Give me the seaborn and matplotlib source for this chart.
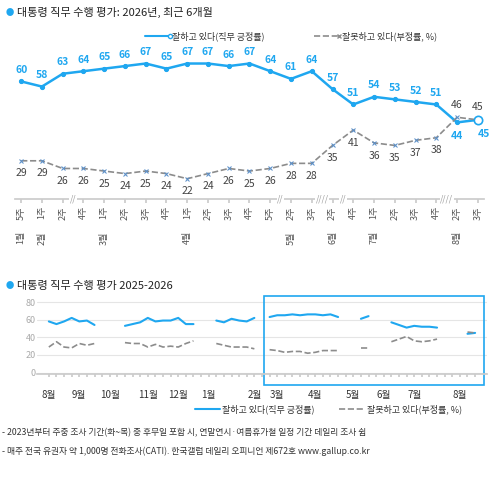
import numpy as np
import pandas as pd
import matplotlib
matplotlib.use("Agg")
import matplotlib.pyplot as plt
import seaborn as sns
from matplotlib.patches import Rectangle

sns.set_theme(style="white")
plt.rcParams['font.family'] = ['Noto Sans CJK KR', 'DejaVu Sans']

BLUE = "#1fa7f0"
GREY = "#8c8c8c"

weeks = ["5주","1주","2주","4주","1주","2주","3주","4주","1주","2주","3주","4주","5주",
         "2주","3주","2주","4주","1주","2주","3주","4주","2주","3주"]
months = {0:"1월",1:"2월",4:"3월",8:"4월",13:"5월",15:"6월",17:"7월",21:"8월"}
pos = [60,58,63,64,65,66,67,65,67,67,66,67,64,61,64,57,51,54,53,52,51,44,45]
neg = [29,29,26,26,25,24,25,24,22,24,26,25,26,28,28,35,41,36,35,37,38,46,45]
breaks = [(2.5,"//"),(12.5,"//"),(14.5,"////"),(15.5,"//"),(20.5,"////")]

# bottom long series
b_pos = [58,55,58,62,58,59,54, np.nan,np.nan,np.nan,
         53,55,57,62,58,59,59,62,55,55, np.nan,np.nan,
         59,57,61,59,58,62, np.nan,
         63,65,65,66,65,66,66,65,66,63, np.nan,np.nan,
         61,64, np.nan,np.nan,
         57,54,51,53,52,52,51, np.nan,np.nan,np.nan,
         44,45]
b_neg = [29,35,29,28,33,31,33, np.nan,np.nan,np.nan,
         34,33,33,29,32,29,30,29,33,36, np.nan,np.nan,
         33,31,29,29,29,27, np.nan,
         26,25,23,24,24,22,23,25,25,25, np.nan,np.nan,
         28,28, np.nan,np.nan,
         35,38,41,36,35,36,38, np.nan,np.nan,np.nan,
         46,45]
b_months = ["8월","9월","10월","11월","12월","1월","2월","3월","4월","5월","6월","7월","8월"]
b_month_x = [0,4,8,13,17,21,27,30,35,40,44,48,54]

fig = plt.figure(figsize=(4.99,4.8), dpi=100)

fig.text(0.012,0.974,"●",color=BLUE,fontsize=6,va="center")
fig.text(0.035,0.974,"대통령 직무 수행 평가: 2026년, 최근 6개월",fontsize=8,va="center",color="#222")
fig.text(0.012,0.405,"●",color=BLUE,fontsize=6,va="center")
fig.text(0.035,0.405,"대통령 직무 수행 평가 2025-2026",fontsize=8,va="center",color="#222")

fig.lines.append(plt.Line2D([0.29,0.34],[0.925,0.925],transform=fig.transFigure,color=BLUE,lw=1.5,marker="o",markevery=[1],ms=3,mfc="white"))
fig.text(0.345,0.925,"잘하고 있다(직무 긍정률)",fontsize=6.5,va="center",color="#333")
fig.lines.append(plt.Line2D([0.63,0.68],[0.925,0.925],transform=fig.transFigure,color=GREY,lw=1.2,ls="--",marker="x",markevery=[1],ms=3))
fig.text(0.685,0.925,"잘못하고 있다(부정률, %)",fontsize=6.5,va="center",color="#333")

ax = fig.add_axes([0.03,0.585,0.94,0.32])
x = np.arange(len(pos))
sns.lineplot(x=x,y=pos,ax=ax,color=BLUE,lw=1.8,marker="o",ms=3,mfc=BLUE,mec=BLUE)
sns.lineplot(x=x,y=neg,ax=ax,color=GREY,lw=1.2,ls="--",marker="x",ms=3.5,mec="#5a8fc9")
ax.plot([22],[45],marker="o",ms=6,mfc="white",mec=BLUE,mew=1.2)
for i,(p,n) in enumerate(zip(pos,neg)):
    if i==21:
        ax.text(i,p-3.5,str(p),ha="center",va="top",fontsize=7.5,color=BLUE,fontweight="bold")
        ax.text(i,n+3,str(n),ha="center",va="bottom",fontsize=7.5,color="#444")
    elif i==22:
        ax.text(i+0.3,p-3.5,str(p),ha="center",va="top",fontsize=7.5,color=BLUE,fontweight="bold")
        ax.text(i,n+3,str(n),ha="center",va="bottom",fontsize=7.5,color="#444")
    else:
        ax.text(i,p+2.5,str(p),ha="center",va="bottom",fontsize=7.5,color=BLUE,fontweight="bold")
        ax.text(i,n-3,str(n),ha="center",va="top",fontsize=7.5,color="#444")
ax.set_xlim(-0.3,22.3); ax.set_ylim(14,74)
for s in ["top","right","left"]: ax.spines[s].set_visible(False)
ax.spines["bottom"].set_color("#cccccc")
ax.set_yticks([])
ax.set_xticks(x)
ax.set_xticklabels(weeks,rotation=90,fontsize=6.5,color="#555")
ax.tick_params(axis="x",length=3,color="#cccccc",pad=2,bottom=True)
for bx,t in breaks:
    ax.text(bx,14,t,ha="center",va="center",fontsize=6,color="#999",style="italic",
            bbox=dict(fc="white",ec="none",pad=0.3))
for i,m in months.items():
    ax.text(i,1.5,m,rotation=90,ha="center",va="top",fontsize=6.5,color="#555")

# bottom chart: split into segments at gaps
bx_ = np.arange(len(b_pos))
seg = np.cumsum(np.isnan(np.array(b_pos, dtype=float)))
df = pd.DataFrame({"x":bx_,"pos":b_pos,"neg":b_neg,"seg":seg}).dropna()
ax2 = fig.add_axes([0.075,0.22,0.9,0.16])
sns.lineplot(data=df,x="x",y="pos",units="seg",estimator=None,ax=ax2,color=BLUE,lw=1.5)
sns.lineplot(data=df,x="x",y="neg",units="seg",estimator=None,ax=ax2,color=GREY,lw=1.2,ls="--")
ax2.set_xlabel(""); ax2.set_ylabel("")
ax2.set_ylim(-2,85); ax2.set_xlim(-1.5,len(b_pos)+0.5)
ax2.set_yticks([0,20,40,60,80])
ax2.tick_params(axis="y",labelsize=6.5,labelcolor="#aaa",length=0,pad=1)
ax2.yaxis.grid(True,color="#e5e5e5",lw=0.8)
for s in ["top","right","left"]: ax2.spines[s].set_visible(False)
ax2.spines["bottom"].set_color("#cccccc")
ax2.set_xticks(bx_); ax2.set_xticklabels([])
ax2.tick_params(axis="x",length=2,color="#cccccc",bottom=True)
for xm,m in zip(b_month_x,b_months):
    ax2.text(xm,-20,m,ha="center",va="top",fontsize=7,color="#333")
ax2.add_patch(Rectangle((28.3,-14),len(b_pos)+0.5-28.3-0.3,101,fill=False,ec=BLUE,lw=1.2,clip_on=False))

fig.lines.append(plt.Line2D([0.39,0.44],[0.148,0.148],transform=fig.transFigure,color=BLUE,lw=1.5))
fig.text(0.445,0.148,"잘하고 있다(직무 긍정률)",fontsize=6.5,va="center",color="#333")
fig.lines.append(plt.Line2D([0.68,0.73],[0.148,0.148],transform=fig.transFigure,color=GREY,lw=1.2,ls="--"))
fig.text(0.735,0.148,"잘못하고 있다(부정률, %)",fontsize=6.5,va="center",color="#333")

fig.text(0.005,0.098,"- 2023년부터 주중 조사 기간(화~목) 중 후무일 포함 시, 연말연시·여름휴가철 일정 기간 데일리 조사 쉼",fontsize=6.3,color="#333",va="center")
fig.text(0.005,0.06,"- 매주 전국 유권자 약 1,000명 전화조사(CATI). 한국갤럽 데일리 오피니언 제672호 www.gallup.co.kr",fontsize=6.3,color="#333",va="center")

fig.savefig("out.png",dpi=100)
